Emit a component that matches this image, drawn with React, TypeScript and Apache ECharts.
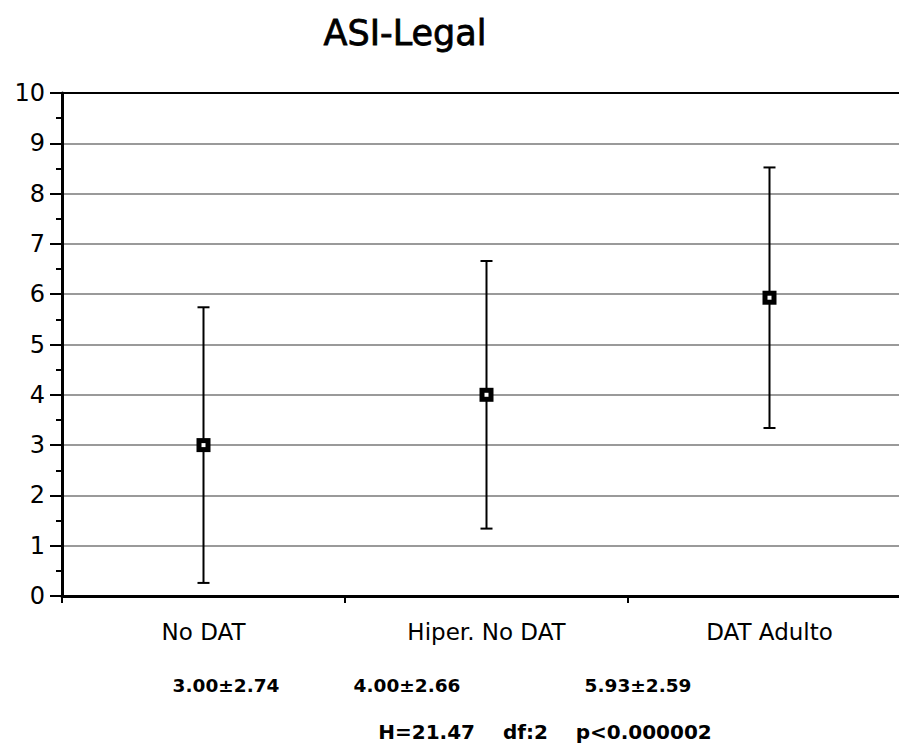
import React, { useEffect, useRef } from "react";
import * as echarts from "echarts";

const categories = ["No DAT", "Hiper. No DAT", "DAT Adulto"];
const means = [3.0, 4.0, 5.93];
const sds = [2.74, 2.66, 2.59];
const statLabels = ["3.00±2.74", "4.00±2.66", "5.93±2.59"];
const statCenters = [226, 407, 638];
const testLabel = "H=21.47\u00A0\u00A0\u00A0\u00A0df:2\u00A0\u00A0\u00A0\u00A0p<0.000002";
const titleText = "ASI-Legal";

export default function App() {
  const ref = useRef<HTMLDivElement>(null);
  useEffect(() => {
    document.body.style.margin = "0";
    const chart = echarts.init(ref.current!, null, { renderer: "svg" });
    const data = categories.map((_, i) => [i, means[i], means[i] - sds[i], means[i] + sds[i]]);
    const font = "DejaVu Sans";
    chart.setOption({
      animation: false,
      backgroundColor: "#fff",
      grid: { left: 62, top: 93, right: 0, height: 503 },
      xAxis: [
        {
          type: "category",
          data: categories,
          boundaryGap: true,
          axisLine: { lineStyle: { color: "#000", width: 3 } },
          axisTick: { show: true, alignWithLabel: false, length: 7, lineStyle: { color: "#000", width: 2 } },
          axisLabel: { color: "#000", fontSize: 23, fontFamily: font, margin: 24 },
          splitLine: { show: false },
        },
        {
          type: "category",
          data: categories,
          position: "top",
          axisLine: { lineStyle: { color: "#000", width: 2 } },
          axisTick: { show: false },
          axisLabel: { show: false },
        },
      ],
      yAxis: {
        type: "value",
        min: 0,
        max: 10,
        interval: 1,
        axisLine: { show: true, lineStyle: { color: "#000", width: 3 } },
        axisTick: { show: true, length: 12, lineStyle: { color: "#000", width: 2 } },
        minorTick: { show: true, splitNumber: 2, length: 6, lineStyle: { color: "#000", width: 2 } },
        axisLabel: { color: "#000", fontSize: 24, fontFamily: font, margin: 17 },
        splitLine: { show: true, lineStyle: { color: "#9a9a9a", width: 2 } },
      },
      series: [
        {
          type: "custom",
          data,
          encode: { x: 0, y: 1 },
          renderItem: (params: any, api: any) => {
            const x = api.value(0);
            const pM = api.coord([x, api.value(1)]);
            const pLo = api.coord([x, api.value(2)]);
            const pHi = api.coord([x, api.value(3)]);
            const cap = 6;
            const st = { stroke: "#000", lineWidth: 2 };
            return {
              type: "group",
              children: [
                { type: "line", shape: { x1: pLo[0], y1: pLo[1], x2: pHi[0], y2: pHi[1] }, style: st },
                { type: "line", shape: { x1: pLo[0] - cap, y1: pLo[1], x2: pLo[0] + cap, y2: pLo[1] }, style: st },
                { type: "line", shape: { x1: pHi[0] - cap, y1: pHi[1], x2: pHi[0] + cap, y2: pHi[1] }, style: st },
                { type: "rect", shape: { x: pM[0] - 7, y: pM[1] - 7, width: 14, height: 14 }, style: { fill: "#000" } },
                { type: "rect", shape: { x: pM[0] - 2, y: pM[1] - 2, width: 4, height: 4 }, style: { fill: "#fff" } },
              ],
            };
          },
        },
      ],
      graphic: [
        {
          type: "text",
          x: 405,
          y: 33,
          style: {
            text: titleText,
            fontSize: 35,
            fontFamily: font,
            fill: "#000",
            stroke: "#000",
            lineWidth: 0.8,
            align: "center",
            verticalAlign: "middle",
          },
        },
        ...statLabels.map((t, i) => ({
          type: "text",
          x: statCenters[i],
          y: 685,
          style: { text: t, fontSize: 18.5, fontWeight: "bold", fontFamily: font, fill: "#000", align: "center", verticalAlign: "middle" },
        })),
        {
          type: "text",
          x: 545,
          y: 732,
          style: { text: testLabel, fontSize: 20, fontWeight: "bold", fontFamily: font, fill: "#000", align: "center", verticalAlign: "middle" },
        },
      ],
    });
    return () => chart.dispose();
  }, []);
  return (
    <div style={{ width: 899, height: 747, position: "absolute", left: 0, top: 0, overflow: "hidden", background: "#fff" }}>
      <div ref={ref} style={{ width: 911, height: 747 }} />
    </div>
  );
}
